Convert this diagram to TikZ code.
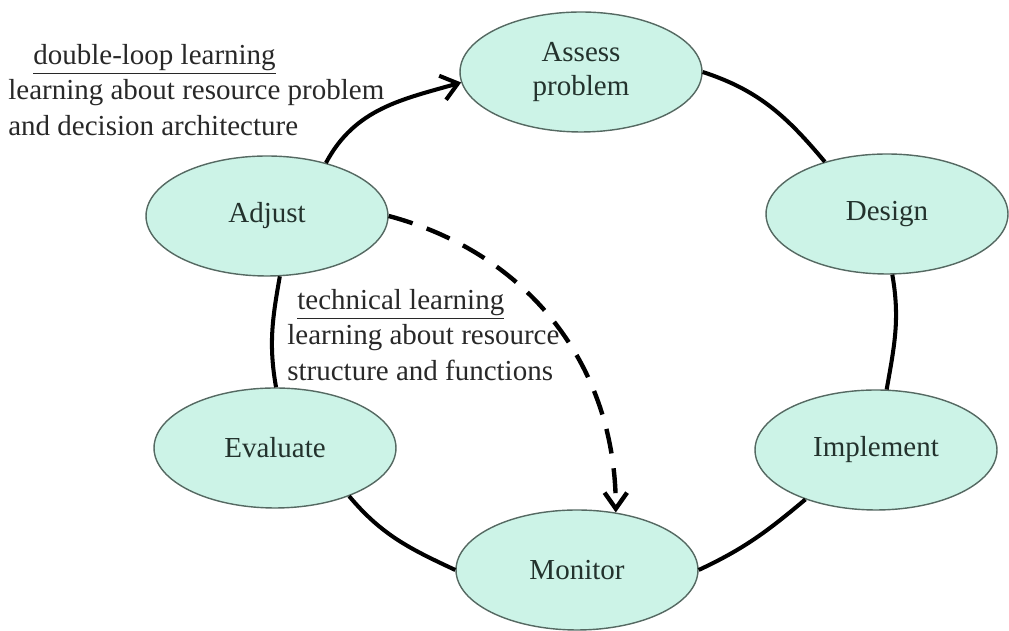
\documentclass[tikz,border=0pt]{standalone}
\usepackage{fontspec}
\setmainfont{Liberation Serif}
\usetikzlibrary{shapes.geometric, arrows.meta}
\definecolor{phasefill}{RGB}{204,243,231}
\definecolor{phaseline}{RGB}{85,105,98}
\definecolor{phasetext}{RGB}{35,50,45}
\definecolor{notetext}{RGB}{40,40,40}

\begin{document}
\begin{tikzpicture}[
  x=0.02cm, y=0.02cm,
  phase/.style={ellipse, draw=phaseline, line width=0.8pt, fill=phasefill,
                minimum width=4.84cm, minimum height=2.4cm, inner sep=0pt,
                align=center, text=phasetext, font=\fontsize{16.5}{19}\selectfont},
  note/.style={align=left, inner sep=0pt, text=notetext,
               font=\fontsize{16.5}{20}\selectfont},
  ring/.style={draw, line width=2.3pt},
  ringarrow/.style={draw, line width=2.3pt, -{Straight Barb[length=0.32cm, width=0.5cm]}},
  feedback/.style={draw, line width=2.5pt, dash pattern=on 0.5cm off 0.3cm,
                   -{Straight Barb[length=0.32cm, width=0.45cm]}}
]
\useasboundingbox (0,0) rectangle (1009,631);
% Nodes
\node[phase] (assess) at (581,559) {Assess\\problem};
\node[phase] (design) at (887,417) {Design};
\node[phase] (implement) at (876,181) {Implement};
\node[phase] (monitor) at (577,61) {Monitor};
\node[phase] (evaluate) at (275,183) {Evaluate};
\node[phase] (adjust) at (267,415) {Adjust};
% Notes
\node[note, anchor=west] (doubleloop) at (8,541)
  {\hspace*{0.5cm}\underline{double-loop learning}\\learning about resource problem\\and decision architecture};
\node[note, anchor=west] (technical) at (287,296)
  {\hspace*{0.2cm}\underline{technical learning}\\learning about resource\\structure and functions};
% Edges
\path[ringarrow] (adjust.42) to[out=62, in=196] (assess.185);
\path[ring] (assess.east) to[out=-18, in=130] (design.140);
\path[ring] (design.-85) to[out=-80, in=80] (implement.80);
\path[ring] (implement.215) to[out=220, in=25] (monitor.east);
\path[ring] (monitor.west) to[out=155, in=-50] (evaluate.-33);
\path[ring] (evaluate.89) to[out=100, in=-100] (adjust.-78);
\path[feedback] (adjust.east) to[out=-15, in=90] (monitor.56);
\end{tikzpicture}
\end{document}
